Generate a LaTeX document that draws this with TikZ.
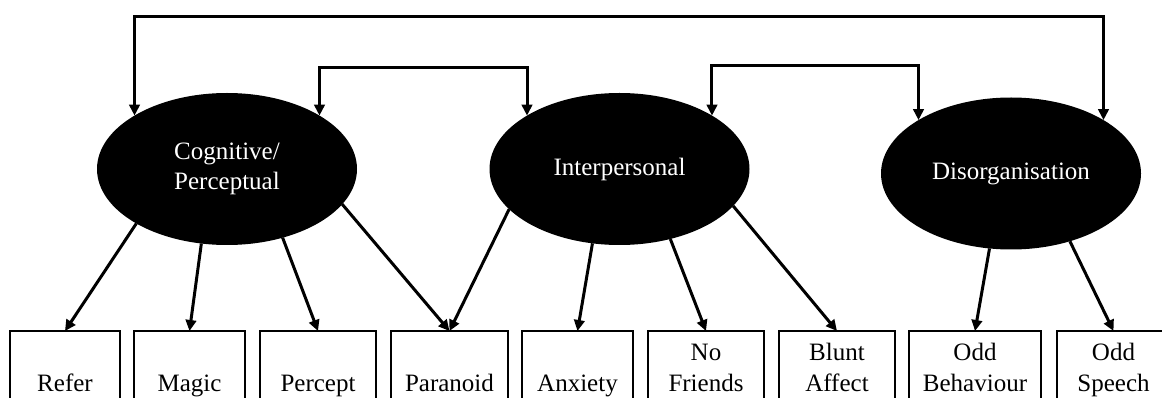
\documentclass[tikz,border=0pt]{standalone}
\usepackage{fontspec}
\setmainfont{Liberation Serif}
\usetikzlibrary{shapes.geometric,arrows.meta}

\tikzset{
  factor/.style={ellipse, fill=black, text=white, minimum width=260pt,
    minimum height=152pt, inner sep=0pt, outer sep=0pt, align=center,
    font=\fontsize{25}{30.5}\selectfont},
  item/.style={draw=black, line width=1.2pt, inner sep=0pt, outer sep=0pt,
    minimum width=#1, text height=60pt, text depth=30pt, anchor=base,
    font=\fontsize{25}{31}\selectfont},
  load/.style={line width=3pt, -{Triangle[length=11pt,width=10.5pt]}},
  corr/.style={line width=3pt,
    {Triangle[length=11pt,width=10.5pt]}-{Triangle[length=11pt,width=10.5pt]}},
}
% observed indicator: box whose text sits on a common bottom baseline
\newcommand\indicator[4]{%
  \node[item=#2] (#1) at (#3,391) {\parbox[b]{#2}{\centering #4}};}

\begin{document}
\begin{tikzpicture}[x=1pt,y=-1pt]
\useasboundingbox (0,0) rectangle (1162,398);
\clip (0,0) rectangle (1162,398);

% latent factors
\node[factor] (cog) at (227,169) {Cognitive/\\Perceptual};
\node[factor] (inter) at (619.5,169) {Interpersonal};
\node[factor] (dis) at (1011,173.5) {Disorganisation};

% indicators
\indicator{refer}{110pt}{65}{Refer}
\indicator{magic}{111pt}{189.5}{Magic}
\indicator{percept}{116pt}{318}{Percept}
\indicator{paranoid}{117pt}{449.5}{Paranoid}
\indicator{anxiety}{111pt}{577.5}{Anxiety}
\indicator{nofriends}{116pt}{706}{No\\Friends}
\indicator{blunt}{116pt}{837}{Blunt\\Affect}
\indicator{oddbeh}{132pt}{975}{Odd\\Behaviour}
\indicator{oddspeech}{113pt}{1113.5}{Odd\\Speech}

% factor correlations
\coordinate (railA) at (0,17);
\coordinate (railB) at (0,68);
\coordinate (railC) at (0,66);
\draw[corr] (cog.150) -- (cog.150 |- railA) -- (dis.30 |- railA) -- (dis.30);
\draw[corr] (cog.30) -- (cog.30 |- railB) -- (inter.150 |- railB) -- (inter.150);
\draw[corr] (inter.30) -- (inter.30 |- railC) -- (dis.150 |- railC) -- (dis.150);

% loadings
\draw[load] (cog.211) -- (refer.north);
\draw[load] (cog.251) -- (magic.north);
\draw[load] (cog.309) -- (percept.north);
\draw[load] (cog.343) -- (paranoid.north);
\draw[load] (inter.200) -- (paranoid.north);
\draw[load] (inter.250) -- (anxiety.north);
\draw[load] (inter.306) -- (nofriends.north);
\draw[load] (inter.342) -- (blunt.north);
\draw[load] (dis.254) -- (oddbeh.north);
\draw[load] (dis.311) -- (oddspeech.north);
\end{tikzpicture}
\end{document}
